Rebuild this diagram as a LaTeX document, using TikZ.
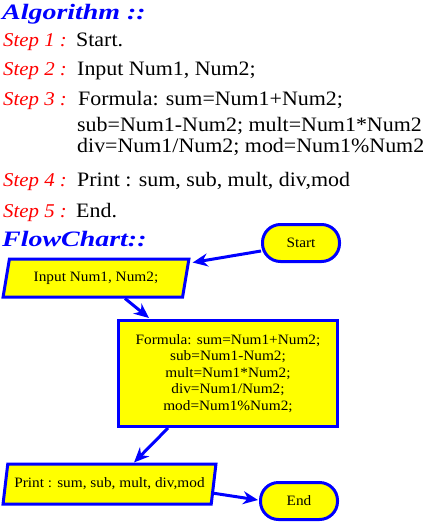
\documentclass[tikz,border=0pt]{standalone}
\usepackage{fontspec}
\setmainfont{Liberation Serif}[FakeStretch=1.07]
\newfontfamily\headfont{Liberation Serif}[FakeStretch=1.27]
\usetikzlibrary{shapes.geometric,arrows.meta,calc}
\definecolor{fcblue}{RGB}{0,0,255}
\definecolor{fcyellow}{RGB}{255,255,0}
\definecolor{fcred}{RGB}{255,0,0}
\tikzset{
  bodytext/.style={anchor=base west, inner sep=0pt, font=\fontsize{20.5}{24}\selectfont},
  steplbl/.style={anchor=base west, inner sep=0pt, text=fcred, font=\fontsize{19.5}{23}\selectfont\itshape},
  headtext/.style={anchor=base west, inner sep=0pt, text=fcblue, font=\headfont\fontsize{22}{26}\selectfont\bfseries\itshape},
  shapebase/.style={draw=fcblue, fill=fcyellow, line width=3pt, inner sep=0pt, font=\fontsize{14.3}{16.5}\selectfont},
  term/.style={shapebase, rectangle, rounded corners=18pt, minimum width=77pt, minimum height=37pt},
  io/.style={shapebase, trapezium, trapezium left angle=70, trapezium right angle=110, trapezium stretches=true},
  proc/.style={shapebase, rectangle, minimum width=219pt, minimum height=106pt, align=center},
  conn/.style={draw=fcblue, line width=3pt, -{Stealth[length=15pt, width=13pt]}}
}
\begin{document}
\begin{tikzpicture}[x=1pt, y=-1pt]
\useasboundingbox (0,0) rectangle (425,523);
% Algorithm text
\node[headtext] (alg) at (2,19) {Algorithm ::};
\node[steplbl] (s1) at (3,46) {Step 1 :};
\node[bodytext] (t1) at (76,46) {Start.};
\node[steplbl] (s2) at (3,75) {Step 2 :};
\node[bodytext] (t2) at (77,75) {Input Num1, Num2;};
\node[steplbl] (s3) at (3,105) {Step 3 :};
\node[bodytext] (t3a) at (78,105) {Formula: sum=Num1+Num2;};
\node[bodytext] (t3b) at (77,131) {sub=Num1-Num2; mult=Num1*Num2};
\node[bodytext] (t3c) at (77,152) {div=Num1/Num2; mod=Num1\%Num2};
\node[steplbl] (s4) at (3,186) {Step 4 :};
\node[bodytext] (t4) at (77,186) {Print : sum, sub, mult, div,mod};
\node[steplbl] (s5) at (3,217) {Step 5 :};
\node[bodytext] (t5) at (76,217) {End.};
\node[headtext] (fc) at (2,246) {FlowChart::};
% Flowchart
\node[term] (start) at (301,243) {Start};
\node[io, minimum width=186pt, minimum height=38pt] (input) at (96,278) {Input Num1, Num2;};
\node[proc] (formula) at (228,373.5) {Formula: sum=Num1+Num2;\\sub=Num1-Num2;\\mult=Num1*Num2;\\div=Num1/Num2;\\mod=Num1\%Num2;};
\node[io, minimum width=213pt, minimum height=40pt] (print) at (109.5,484) {Print : sum, sub, mult, div,mod};
\node[term] (end) at (299,501) {End};
\draw[conn] ($(start.west)+(0,8)$) -- ($(input.top right corner)+(2,5)$);
\draw[conn] ($(input.south)+(29,0)$) -- ($(formula.north west)+(32,-1)$);
\draw[conn] ($(formula.south)+(-60,0)$) -- ($(print.north)+(24.5,0)$);
\draw[conn] ($(print.east)+(-3,9)$) -- ($(end.west)+(-1,-1)$);
\end{tikzpicture}
\end{document}
